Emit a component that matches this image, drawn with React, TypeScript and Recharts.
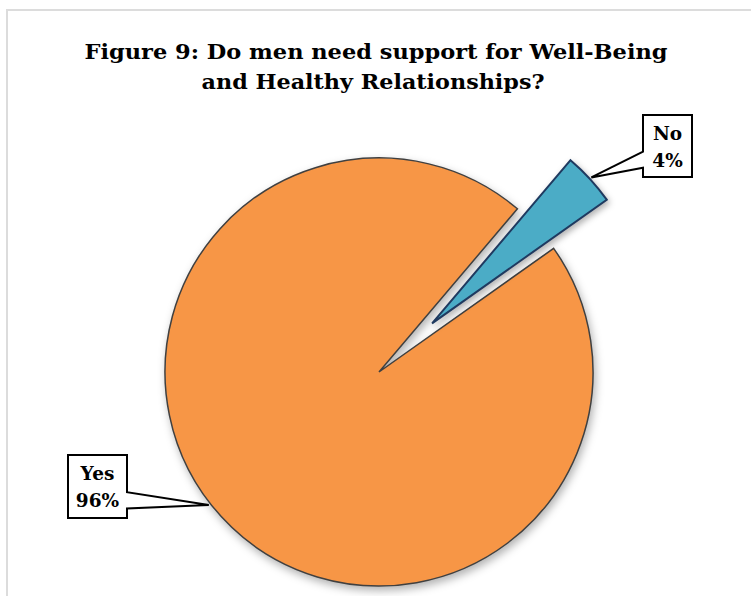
import { PieChart, Pie, Cell } from 'recharts'

// survey answers
const answers = ['No', 'Yes']
const shares = [4, 96]
const sliceColors = ['#4BACC6', '#F79646']
const sliceStrokes = ['#1F3A60', '#404040']
const titleLines = ['Figure 9: Do men need support for Well-Being', 'and Healthy Relationships?']

const data = answers.map((name, i) => ({ name, value: shares[i] }))

const CX = 379
const CY = 372
const R = 214
const START = 35.3
const EXPLODE = 72
const RAD = Math.PI / 180

// blue slice is pulled out along its bisector
const noMid = START + (shares[0] / 100) * 360 / 2
const explodedCx = CX + EXPLODE * Math.cos(noMid * RAD)
const explodedCy = CY - EXPLODE * Math.sin(noMid * RAD)

const FONT = '"DejaVu Serif", serif'

// callout boxes: [x0, y0, x1, y1], side the pointer leaves from, pointer angle tweak
const boxes: Record<string, { box: number[]; side: 'left' | 'right'; tweak: number }> = {
  No: { box: [643, 115, 692, 177], side: 'left', tweak: 0 },
  Yes: { box: [68, 455, 127, 518], side: 'right', tweak: -4.5 },
}

function makeLabel(only: string) {
  // eslint-disable-next-line @typescript-eslint/no-explicit-any
  return (props: any) => {
    const { cx, cy, midAngle, outerRadius, name, value } = props
    if (name !== only) return null
    const cfg = boxes[name]
    const [x0, y0, x1, y1] = cfg.box
    const a = (midAngle + cfg.tweak) * RAD
    const px = cx + (outerRadius + 2) * Math.cos(a)
    const py = cy - (outerRadius + 2) * Math.sin(a)
    const h = y1 - y0
    const wa = y0 + h * 0.59
    const wb = y0 + h * 0.85
    const d =
      cfg.side === 'right'
        ? `M${x0},${y0} H${x1} V${wa} L${px},${py} L${x1},${wb} V${y1} H${x0} Z`
        : `M${x0},${y0} H${x1} V${y1} H${x0} V${wb} L${px},${py} L${x0},${wa} Z`
    const tx = (x0 + x1) / 2
    return (
      <g>
        <path d={d} fill="#fff" stroke="#000" strokeWidth={2} strokeLinejoin="miter" />
        <text x={tx} y={y0 + 25} textAnchor="middle" fontFamily={FONT} fontWeight="bold" fontSize={18.5} fill="#000">
          {name}
        </text>
        <text x={tx} y={y0 + 52} textAnchor="middle" fontFamily={FONT} fontWeight="bold" fontSize={18.5} fill="#000">
          {`${value}%`}
        </text>
      </g>
    )
  }
}

export default function App() {
  return (
    <div style={{ position: 'absolute', left: 0, top: 0, width: 751, height: 596, overflow: 'hidden', background: '#fff' }}>
      <div
        style={{
          position: 'absolute',
          left: 6,
          top: 9,
          width: 800,
          height: 700,
          border: '2px solid #dcdcdc',
        }}
      />
      <svg width={751} height={110} style={{ position: 'absolute', left: 0, top: 0 }}>
        <text x={376} y={59} textAnchor="middle" fontFamily={FONT} fontWeight="bold" fontSize={21} textLength={583} lengthAdjust="spacingAndGlyphs" fill="#000">
          {titleLines[0]}
        </text>
        <text x={373} y={89} textAnchor="middle" fontFamily={FONT} fontWeight="bold" fontSize={21} textLength={343} lengthAdjust="spacingAndGlyphs" fill="#000">
          {titleLines[1]}
        </text>
      </svg>
      <div style={{ position: 'absolute', left: 0, top: 0 }}>
        <PieChart width={751} height={596} margin={{ top: 0, right: 0, bottom: 0, left: 0 }}>
          <Pie
            data={data}
            dataKey="value"
            nameKey="name"
            cx={CX}
            cy={CY}
            outerRadius={R}
            startAngle={START}
            endAngle={START + 360}
            label={makeLabel('Yes')}
            labelLine={false}
            isAnimationActive={false}
          >
            {data.map((d, i) => (
              <Cell
                key={d.name}
                fill={d.name === 'Yes' ? sliceColors[i] : 'none'}
                stroke={d.name === 'Yes' ? sliceStrokes[i] : 'none'}
                strokeWidth={1.5}
                style={{ filter: d.name === 'Yes' ? 'drop-shadow(2px 4px 4px rgba(0,0,0,0.3))' : undefined }}
              />
            ))}
          </Pie>
          <Pie
            data={data}
            dataKey="value"
            nameKey="name"
            cx={explodedCx}
            cy={explodedCy}
            outerRadius={R}
            startAngle={START}
            endAngle={START + 360}
            label={makeLabel('No')}
            labelLine={false}
            isAnimationActive={false}
          >
            {data.map((d, i) => (
              <Cell
                key={d.name}
                fill={d.name === 'No' ? sliceColors[i] : 'none'}
                stroke={d.name === 'No' ? sliceStrokes[i] : 'none'}
                strokeWidth={2}
                style={{ filter: d.name === 'No' ? 'drop-shadow(2px 3px 3px rgba(0,0,0,0.3))' : undefined }}
              />
            ))}
          </Pie>
        </PieChart>
      </div>
    </div>
  )
}
